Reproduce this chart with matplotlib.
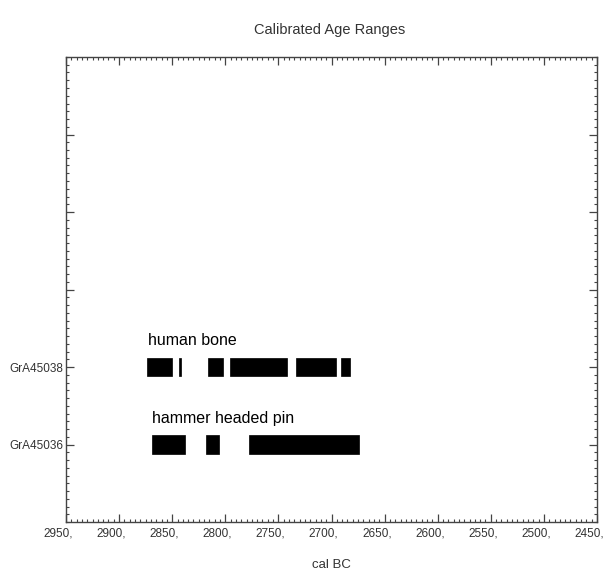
import matplotlib
matplotlib.use("Agg")
import matplotlib.pyplot as plt
from matplotlib.ticker import MultipleLocator
from matplotlib.transforms import offset_copy

plt.rcParams['font.family'] = ['Liberation Sans', 'DejaVu Sans']

# Data (cal BC ranges, start -> end)
samples = ["GrA45036", "GrA45038"]
labels = ["hammer headed pin", "human bone"]
pin_starts = [2869, 2818, 2778]
pin_ends = [2838, 2806, 2674]
bone_starts = [2874, 2843.5, 2816, 2796, 2733, 2691]
bone_ends = [2850, 2842, 2802, 2742, 2696, 2683]
xticks = [2950, 2900, 2850, 2800, 2750, 2700, 2650, 2600, 2550, 2500, 2450]

fig = plt.figure(figsize=(6.03, 5.75), dpi=100)
ax = fig.add_axes([66/603, 1-522/575, (597-66)/603, (522-57)/575])

h = 0.245
for y, s, e in [(1, pin_starts, pin_ends), (2, bone_starts, bone_ends)]:
    ax.barh([y]*len(s), [a - b for a, b in zip(s, e)], left=e, height=h,
            color='black', edgecolor='black', linewidth=0.5)

ax.text(2869, 1.33, labels[0], fontsize=11.5, ha='left', va='center', color='black')
ax.text(2873, 2.34, labels[1], fontsize=11.5, ha='left', va='center', color='black')

ax.set_xlim(2950, 2450)
ax.set_ylim(0, 6)
ax.set_xticks(xticks)
ax.set_xticklabels([])
lbl_tr = offset_copy(ax.get_xaxis_transform(), fig=fig, x=7, y=-11, units='dots')
for t in xticks:
    ax.text(t, 0, f"{t},", transform=lbl_tr, fontsize=8.5, color='#333333',
            ha='right', va='center', clip_on=False)
ax.xaxis.set_minor_locator(MultipleLocator(5))
ax.set_yticks([1, 2, 3, 4, 5])
ax.set_yticklabels(samples + ["", "", ""], fontsize=8.5, color='#333333')
ax.yaxis.set_minor_locator(MultipleLocator(0.1))
ax.tick_params(which='both', direction='in', top=True, right=True, color='#444444')
ax.tick_params(which='major', length=6, width=0.9)
ax.tick_params(which='minor', length=2.5, width=0.8)
ax.tick_params(axis='y', pad=2)
for sp in ax.spines.values():
    sp.set_color('#444444')
    sp.set_linewidth(1.0)

fig.text(331/603, 1-565/575, "cal BC", fontsize=9.5, ha='center', va='center', color='#333333')
fig.text(330/603, 1-30/575, "Calibrated Age Ranges", fontsize=10.5, ha='center', va='center', color='#333333')

fig.savefig("out.png", dpi=100, facecolor='white')
